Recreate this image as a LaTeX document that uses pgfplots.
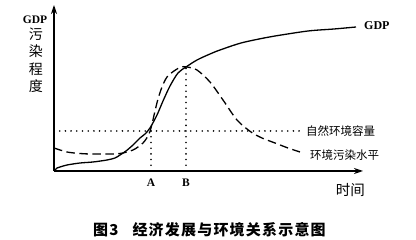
\documentclass[border=0pt]{standalone}
\usepackage{pgfplots}
\pgfplotsset{compat=1.18}
\usepackage{fontspec}
\setmainfont{Liberation Serif}
\newfontfamily\cjk{Noto Sans CJK SC}
\newfontfamily\cjkcap[LetterSpace=8]{Noto Sans CJK SC}
\usetikzlibrary{arrows.meta}
\begin{document}
\begin{tikzpicture}
\begin{axis}[
  scale only axis, width=309pt, height=166pt,
  xmin=0, xmax=309, ymin=0, ymax=166,
  axis lines=left,
  axis line style={line width=1.2pt, -{Stealth[length=9pt,width=6pt]}},
  xtick=\empty, ytick=\empty,
  clip=false,
]
% GDP
\addplot[black, line width=1.3pt, smooth, tension=0.5] coordinates {
(0,0) (3,3) (6,4) (13,6) (26,8) (39,9) (53,11) (61,13) (66,16) (72,20)
(79,26) (86,33) (91,37) (96,43) (103,56) (109,70) (116,85) (124,98)
(132,104) (143,111) (156,117) (166,121) (187,128) (210,133) (221,135)
(254,140) (280,142) (302,144)};
% pollution
\addplot[black, line width=1.3pt, smooth, tension=0.5, dash pattern=on 8.5pt off 4.5pt] coordinates {
(0,23) (13,19) (26,17.5) (36,17) (53,17) (66,17.5) (79,21) (89,28)
(95,37) (98,47) (101,60) (104,72) (108,84) (113,94) (120,100) (127,104)
(133,104) (143,101) (156,89) (169,71) (183,51) (197,39) (208,33)
(221,28) (234,23) (246,19)};
% dotted guides
\addplot[black, line width=1.8pt, line cap=round, dash pattern=on 0pt off 5.7pt] coordinates {(0,40) (247,40)};
\addplot[black, line width=1.8pt, line cap=round, dash pattern=on 0pt off 5.7pt] coordinates {(97,0) (97,40)};
\addplot[black, line width=1.8pt, line cap=round, dash pattern=on 0pt off 5.7pt] coordinates {(132,0) (132,104)};
% labels
\node[font=\fontsize{11.5}{12}\selectfont\bfseries] at (axis cs:97,-12) {A};
\node[font=\fontsize{11.5}{12}\selectfont\bfseries] at (axis cs:132,-12) {B};
\node[anchor=west, font=\fontsize{12}{12}\selectfont\bfseries, inner sep=0pt] at (axis cs:310,145) {GDP};
\node[anchor=west, font=\cjk\fontsize{11.5}{12}\selectfont, inner sep=0pt] at (axis cs:252,40) {自然环境容量};
\node[anchor=west, font=\cjk\fontsize{11.5}{12}\selectfont, inner sep=0pt] at (axis cs:256,16) {环境污染水平};
\node[font=\cjk\fontsize{14.5}{14}\selectfont, inner sep=0pt] at (axis cs:296.5,-19) {时间};
\node[font=\fontsize{11.5}{11}\selectfont\bfseries, inner sep=0pt] at (axis cs:-19,151) {GDP};
\node[font=\cjk\fontsize{14}{14}\selectfont, inner sep=0pt] at (axis cs:-18,137) {污};
\node[font=\cjk\fontsize{14}{14}\selectfont, inner sep=0pt] at (axis cs:-18,119.5) {染};
\node[font=\cjk\fontsize{14}{14}\selectfont, inner sep=0pt] at (axis cs:-18,102) {程};
\node[font=\cjk\fontsize{14}{14}\selectfont, inner sep=0pt] at (axis cs:-18,84.5) {度};
\node[anchor=west, font=\cjkcap\fontsize{15}{15}\selectfont\bfseries, inner sep=0pt] at (axis cs:39,-59) {图3\hspace{14pt}经济发展与环境关系示意图};
\end{axis}
\pgfresetboundingbox
\useasboundingbox (-54pt,-69pt) rectangle (362pt,171pt);
\end{tikzpicture}
\end{document}
